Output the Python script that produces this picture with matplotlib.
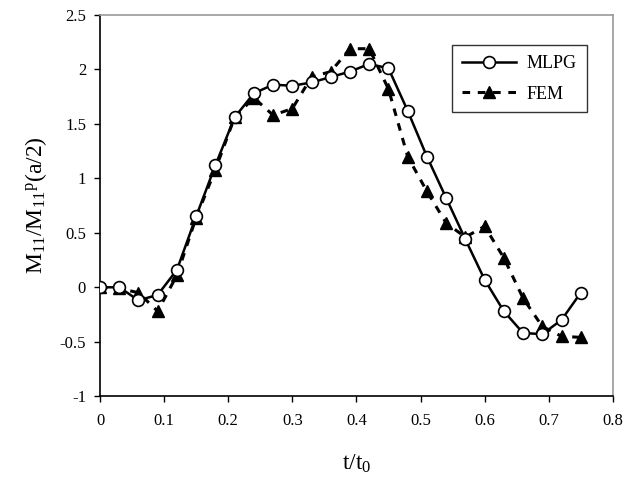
import matplotlib
matplotlib.use("Agg")
import matplotlib.pyplot as plt
import numpy as np

plt.rcParams['font.family'] = ['Liberation Serif', 'DejaVu Serif']
plt.rcParams['mathtext.fontset'] = 'custom'
plt.rcParams['mathtext.rm'] = 'Liberation Serif'
plt.rcParams['mathtext.it'] = 'Liberation Serif'

t = [0.00, 0.03, 0.06, 0.09, 0.12, 0.15, 0.18, 0.21, 0.24, 0.27, 0.30, 0.33, 0.36,
     0.39, 0.42, 0.45, 0.48, 0.51, 0.54, 0.57, 0.60, 0.63, 0.66, 0.69, 0.72, 0.75]
mlpg = [0.00, 0.00, -0.12, -0.07, 0.16, 0.65, 1.12, 1.56, 1.78, 1.86, 1.85, 1.88, 1.93,
        1.98, 2.05, 2.01, 1.62, 1.20, 0.82, 0.44, 0.07, -0.22, -0.42, -0.43, -0.30, -0.05]
fem = [0.00, -0.01, -0.05, -0.22, 0.11, 0.64, 1.08, 1.56, 1.74, 1.58, 1.64, 1.93, 1.98,
       2.19, 2.19, 1.82, 1.20, 0.88, 0.59, 0.46, 0.56, 0.27, -0.10, -0.36, -0.45, -0.46]

fig = plt.figure(figsize=(6.39, 4.82), dpi=100)
ax = fig.add_axes([0.1565, 0.178, 0.8025, 0.791])

ax.plot(t, fem, color='black', linestyle=(0, (2.5, 2.5)), linewidth=2.2,
        marker='^', markersize=9, markerfacecolor='black', markeredgecolor='black',
        label='FEM', zorder=2)
ax.plot(t, mlpg, color='black', linestyle='-', linewidth=1.8,
        marker='o', markersize=8.5, markerfacecolor='white', markeredgecolor='black',
        markeredgewidth=1.2, label='MLPG', zorder=3)

ax.set_xlim(0, 0.8)
ax.set_ylim(-1, 2.5)
ax.set_xticks(np.arange(0, 0.81, 0.1))
ax.set_xticklabels(['0', '0.1', '0.2', '0.3', '0.4', '0.5', '0.6', '0.7', '0.8'])
ax.set_yticks(np.arange(-1, 2.51, 0.5))
ax.set_yticklabels(['-1', '-0.5', '0', '0.5', '1', '1.5', '2', '2.5'])
ax.tick_params(direction='out', length=4, width=1, labelsize=12, pad=8, colors='black')
ax.tick_params(axis='y', pad=6)

ax.spines['left'].set_color('black')
ax.spines['bottom'].set_color('black')
ax.spines['top'].set_color('#999999')
ax.spines['right'].set_color('#999999')
for s in ax.spines.values():
    s.set_linewidth(1.2)

ax.set_ylabel(r'M$_{11}$/M$_{11}$$^{\mathrm{p}}$(a/2)', fontsize=17, labelpad=8)
ax.set_xlabel(r't/t$_{0}$', fontsize=17, labelpad=17)

h, l = ax.get_legend_handles_labels()
leg = ax.legend(h[::-1], l[::-1], loc='upper right', bbox_to_anchor=(0.949, 0.921),
                fontsize=13, frameon=True, fancybox=False, edgecolor='black',
                handlelength=3.0, handletextpad=0.6, borderpad=0.55, labelspacing=0.75,
                borderaxespad=0)
leg.get_frame().set_linewidth(1.0)

fig.savefig('out.png', dpi=100)
